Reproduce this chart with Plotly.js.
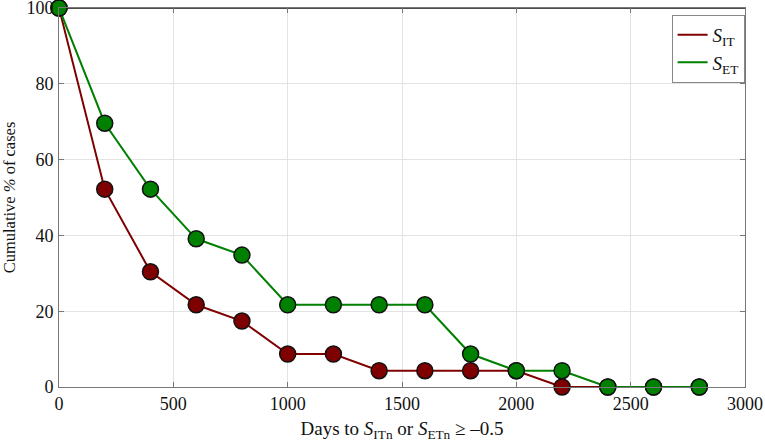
<!DOCTYPE html>
<html><head><meta charset="utf-8">
<script src="https://cdn.plot.ly/plotly-3.0.1.min.js"></script>
<style>body{margin:0;background:#fff}#c{width:765px;height:445px}</style>
</head><body><div id="c"></div>
<script>
const days = [0,200,400,600,800,1000,1200,1400,1600,1800,2000,2200,2400,2600,2800];
const sIT = [100,52.2,30.4,21.7,17.4,8.7,8.7,4.3,4.3,4.3,4.3,0,0,0,0];
const sET = [100,69.6,52.2,39.1,34.8,21.7,21.7,21.7,21.7,8.7,4.3,4.3,0,0,0];
const xTicks = [0,500,1000,1500,2000,2500,3000];
const yTicks = [0,20,40,60,80,100];

const SERIF = 'Liberation Serif, Times New Roman, Times, DejaVu Serif, serif';
const mk = c => ({size:16, color:c, line:{color:'#111', width:1.5}});
const data = [
  {x:days, y:sIT, mode:'lines+markers', showlegend:false, line:{color:'#7f0000', width:2}, marker:mk('#7f0000'), cliponaxis:false},
  {x:days, y:sET, mode:'lines+markers', showlegend:false, line:{color:'#008000', width:2}, marker:mk('#008000'), cliponaxis:false},
  {x:[null], y:[null], mode:'lines', name:'<i>S</i><sub>IT</sub>', line:{color:'#7f0000', width:2}},
  {x:[null], y:[null], mode:'lines', name:'<i>S</i><sub>ET</sub>', line:{color:'#008000', width:2}}
];
const axFont = {family:SERIF, size:18, color:'#111'};
const layout = {
  width:765, height:445,
  margin:{l:59, r:20, t:8, b:58},
  paper_bgcolor:'#fff', plot_bgcolor:'#fff',
  font:axFont,
  showlegend:true,
  legend:{x:0.893, xanchor:'left', y:0.982, yanchor:'top', bordercolor:'#888', borderwidth:1, bgcolor:'#fff', font:{family:SERIF, size:19, color:'#111'}, tracegroupgap:2, itemwidth:30},
  xaxis:{range:[0,3000], tickvals:xTicks, ticktext:xTicks.map(String), showgrid:true, gridcolor:'#e3e3e3', zeroline:false,
         showline:true, linecolor:'#777', linewidth:1, mirror:'ticks', ticks:'inside', ticklen:5, tickcolor:'#777',
         tickfont:axFont, ticklabeloverflow:'allow',
         title:{text:'Days to <i>S</i><sub>ITn</sub> or <i>S</i><sub>ETn</sub> ≥ –0.5', font:{family:SERIF, size:19, color:'#111'}, standoff:9}},
  yaxis:{range:[0,100], tickvals:yTicks, ticktext:yTicks.map(String), showgrid:true, gridcolor:'#e3e3e3', zeroline:false,
         showline:true, linecolor:'#777', linewidth:1, mirror:'ticks', ticks:'inside', ticklen:5, tickcolor:'#777',
         tickfont:axFont, ticklabelstandoff:1, ticklabeloverflow:'allow',
         title:{text:'Cumulative <i>%</i> of cases', font:{family:SERIF, size:16.5, color:'#111'}, standoff:7}},
  shapes:[{type:'line', xref:'paper', yref:'paper', x0:0, x1:1, y0:1, y1:1, line:{color:'#111', width:1.5}, layer:'below'}]
};
Plotly.newPlot('c', data, layout, {displayModeBar:false, staticPlot:true});
</script></body></html>
